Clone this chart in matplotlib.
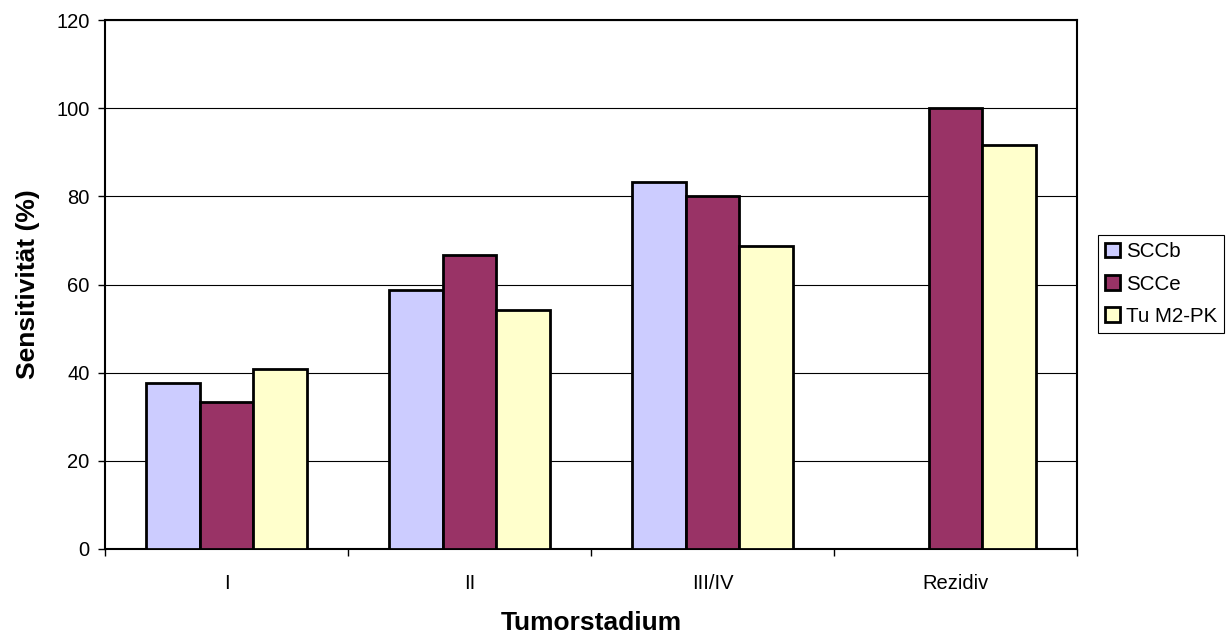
import matplotlib.pyplot as plt
import numpy as np

plt.rcParams['font.family'] = ['Liberation Sans', 'DejaVu Sans']

# Sensitivity per tumour stage
stages = ["I", "II", "III/IV", "Rezidiv"]
series = ["SCCb", "SCCe", "Tu M2-PK"]
sccb = [37.7, 58.8, 83.3, 0]
scce = [33.3, 66.7, 80.0, 100.0]
tu_m2pk = [40.9, 54.3, 68.8, 91.7]
colors = ["#CCCCFF", "#993366", "#FFFFCC"]

fig = plt.figure(figsize=(12.31, 6.35), dpi=100)
ax = fig.add_axes([105/1231, 1 - 549/635, 972/1231, 529/635])

x = np.arange(len(stages))
width = 0.221
for i, (name, vals) in enumerate(zip(series, [sccb, scce, tu_m2pk])):
    ax.bar(x + (i - 1) * width, vals, width, color=colors[i],
           edgecolor="black", linewidth=2.0, label=name, zorder=3)

ax.set_xlim(-0.5, len(stages) - 0.5)
ax.set_ylim(0, 120)
ax.set_yticks(np.arange(0, 121, 20))
ax.yaxis.grid(True, color="black", linewidth=0.8, zorder=0)

# category boundaries as ticks, labels centred between them
ax.set_xticks(np.arange(-0.5, len(stages)), labels=[])
ax.set_xticks(x, labels=stages, minor=True)
ax.tick_params(axis="x", which="major", length=5, width=1, direction="out")
ax.tick_params(axis="x", which="minor", length=0, pad=18, labelsize=14.5)
ax.tick_params(axis="y", length=5, width=1, pad=6, labelsize=14.5)

for s in ax.spines.values():
    s.set_color("black")
    s.set_linewidth(1.5)

ax.set_xlabel("Tumorstadium", fontsize=19, fontweight="bold", labelpad=13)
ax.set_ylabel("Sensitivität (%)", fontsize=19, fontweight="bold", labelpad=12)

leg = ax.legend(loc="center left", bbox_to_anchor=(1098/1231, 1 - 284/635),
                bbox_transform=fig.transFigure, fontsize=14.8, frameon=True,
                fancybox=False, shadow=False, framealpha=1, borderaxespad=0,
                handlelength=0.7, handleheight=0.7, handletextpad=0.3,
                labelspacing=0.65, borderpad=0.35)
leg.get_frame().set_edgecolor("black")
leg.get_frame().set_linewidth(0.8)

fig.savefig("out.png", dpi=100)
